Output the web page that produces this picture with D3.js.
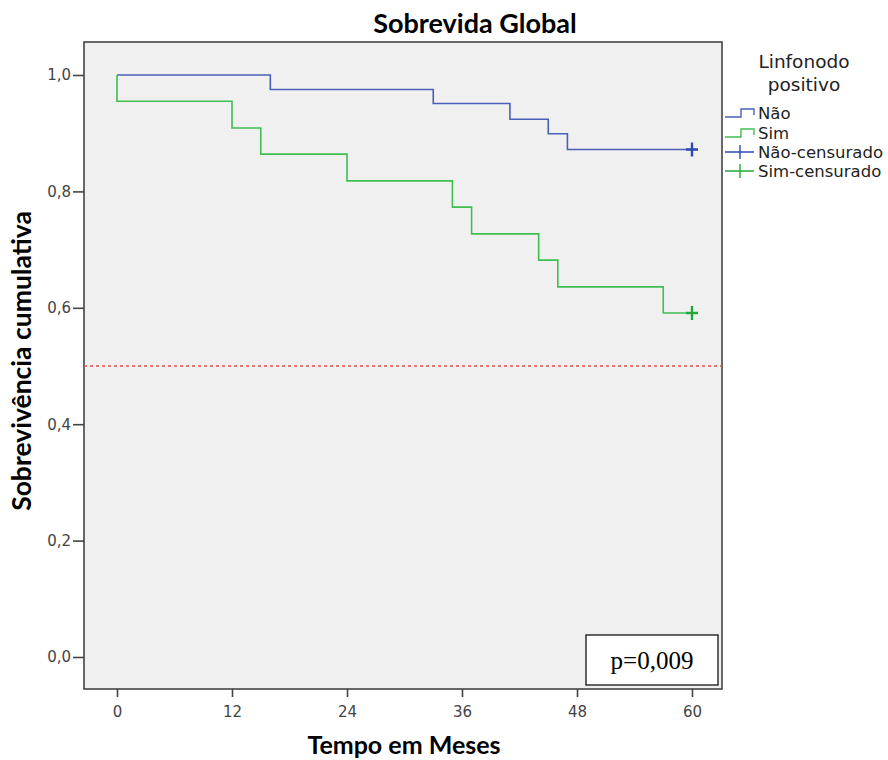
<!DOCTYPE html>
<html>
<head>
<meta charset="utf-8">
<script src="https://cdn.jsdelivr.net/npm/d3@7"></script>
<style>
  body { margin: 0; background: #fff; }
  svg text { font-family: "DejaVu Sans", Verdana, sans-serif; }
  .bold-title { font-family: Lato, "DejaVu Sans", sans-serif !important; font-weight: bold; }
</style>
</head>
<body>
<div id="chart"></div>
<script>
// Kaplan-Meier steps
const naoMonths = [0, 16, 33, 41, 45, 47, 60];
const naoSurv = [1.0, 0.975, 0.951, 0.924, 0.899, 0.872, 0.872];
const simMonths = [0, 0, 12, 15, 24, 35, 37, 44, 46, 57, 60];
const simSurv = [1.0, 0.955, 0.909, 0.864, 0.818, 0.773, 0.727, 0.682, 0.636, 0.591, 0.591];
const censorMonths = [60, 60];
const censorSurv = [0.872, 0.591];
const xTicks = [0, 12, 24, 36, 48, 60];
const yTicks = [0, 0.2, 0.4, 0.6, 0.8, 1.0];
const legendLabels = ["Não", "Sim", "Não-censurado", "Sim-censurado"];
const refLine = 0.5;
const pText = "p=0,009";

const blue = "#4a60b8", green = "#3fbf50";
const blueDark = "#2f48b0", greenDark = "#23a83a";

const width = 888, height = 760;
const frame = { left: 84, right: 722, top: 42, bottom: 689 };

const svg = d3.select("#chart").append("svg")
  .attr("width", width)
  .attr("height", height);

const x = d3.scaleLinear().domain([0, 60]).range([117, 692]);
const y = d3.scaleLinear().domain([0, 1]).range([657, 75]);

// plot area
svg.append("rect")
  .attr("x", frame.left).attr("y", frame.top)
  .attr("width", frame.right - frame.left)
  .attr("height", frame.bottom - frame.top)
  .attr("fill", "#f0f0f0")
  .attr("stroke", "#444").attr("stroke-width", 1.6);

// reference line at 0.5
svg.append("line")
  .attr("x1", frame.left).attr("x2", frame.right)
  .attr("y1", y(refLine)).attr("y2", y(refLine))
  .attr("stroke", "#e0504a").attr("stroke-width", 1.3)
  .attr("stroke-dasharray", "3,3");

// axes
const yAxis = svg.append("g")
  .attr("transform", "translate(" + frame.left + ",0)")
  .call(d3.axisLeft(y).tickValues(yTicks).tickSize(11).tickPadding(2)
    .tickFormat(d => d3.format(".1f")(d).replace(".", ",")));
const xAxis = svg.append("g")
  .attr("transform", "translate(0," + frame.bottom + ")")
  .call(d3.axisBottom(x).tickValues(xTicks).tickSize(8).tickPadding(9));
[yAxis, xAxis].forEach(g => {
  g.select(".domain").remove();
  g.selectAll(".tick line").attr("stroke", "#444").attr("stroke-width", 1.6);
  g.selectAll(".tick text").attr("fill", "#444").style("font-size", "15px");
});

// survival curves
const line = d3.line()
  .x(d => x(d[0]))
  .y(d => y(d[1]))
  .curve(d3.curveStepAfter);

svg.append("path")
  .datum(d3.zip(naoMonths, naoSurv))
  .attr("fill", "none").attr("stroke", blue).attr("stroke-width", 1.6)
  .attr("d", line);
svg.append("path")
  .datum(d3.zip(simMonths, simSurv))
  .attr("fill", "none").attr("stroke", green).attr("stroke-width", 1.6)
  .attr("d", line);

// censored marks
const censorColors = [blueDark, greenDark];
d3.zip(censorMonths, censorSurv).forEach((d, i) => {
  const cx = x(d[0]), cy = y(d[1]);
  svg.append("path")
    .attr("d", `M${cx - 6},${cy}H${cx + 6}M${cx},${cy - 7}V${cy + 7}`)
    .attr("stroke", censorColors[i]).attr("stroke-width", 2.4);
});

// p-value box
svg.append("rect")
  .attr("x", 586).attr("y", 635).attr("width", 132).attr("height", 50)
  .attr("fill", "#fff").attr("stroke", "#111").attr("stroke-width", 1.3);
svg.append("text")
  .attr("x", 652).attr("y", 669)
  .attr("text-anchor", "middle")
  .style("font-family", "'Liberation Serif', 'DejaVu Serif', serif")
  .style("font-size", "25px")
  .text(pText);

// titles
svg.append("text")
  .attr("class", "bold-title")
  .attr("x", 475).attr("y", 33)
  .attr("text-anchor", "middle")
  .style("font-size", "27px")
  .text("Sobrevida Global");
svg.append("text")
  .attr("class", "bold-title")
  .attr("x", 404).attr("y", 754)
  .attr("text-anchor", "middle")
  .style("font-size", "25px")
  .text("Tempo em Meses");
svg.append("text")
  .attr("class", "bold-title")
  .attr("transform", "translate(31,361) rotate(-90)")
  .attr("text-anchor", "middle")
  .style("font-size", "26.5px")
  .text("Sobrevivência cumulativa");

// legend
const legend = svg.append("g");
legend.append("text").attr("x", 804).attr("y", 68).attr("text-anchor", "middle")
  .style("font-size", "18.5px").attr("fill", "#222").text("Linfonodo");
legend.append("text").attr("x", 804).attr("y", 91).attr("text-anchor", "middle")
  .style("font-size", "18.5px").attr("fill", "#222").text("positivo");

const rowY = [113, 133, 152, 171];
const legendColors = [blue, green, blueDark, greenDark];
legendLabels.forEach((label, i) => {
  const cy = rowY[i];
  if (i < 2) {
    legend.append("path")
      .attr("d", `M725,${cy + 4}H741V${cy - 4}H754V${cy + 2}`)
      .attr("fill", "none").attr("stroke", legendColors[i]).attr("stroke-width", 1.4);
  } else {
    legend.append("path")
      .attr("d", `M725,${cy}H754M740,${cy - 7}V${cy + 7}`)
      .attr("stroke", legendColors[i]).attr("stroke-width", 1.4);
  }
  legend.append("text")
    .attr("x", 758).attr("y", cy + 6)
    .style("font-size", "16.5px").attr("fill", "#222")
    .text(label);
});
</script>
</body>
</html>
